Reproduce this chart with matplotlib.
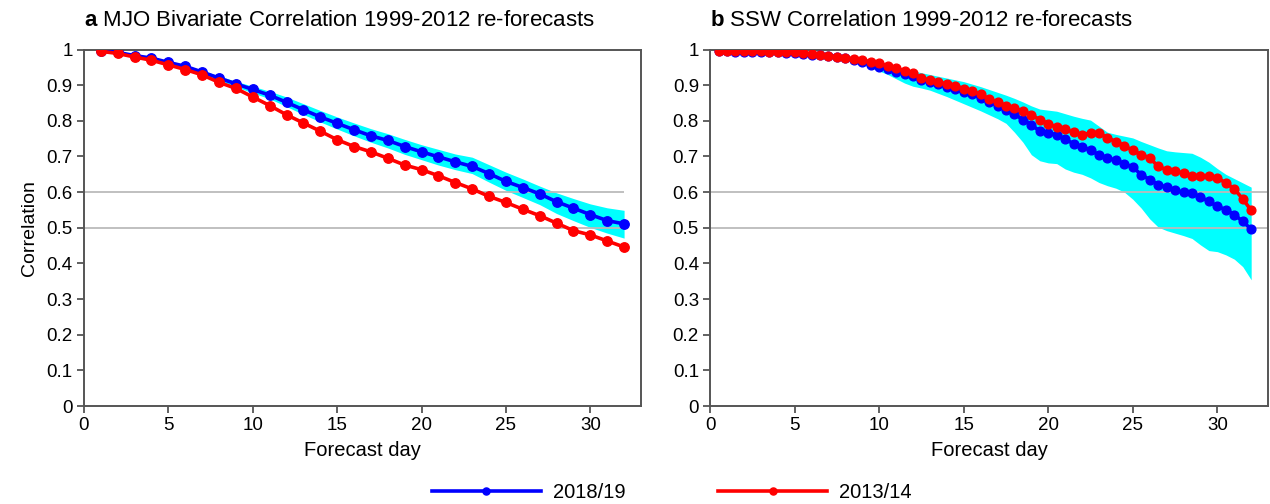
"""Recreate MJO / SSW re-forecast correlation panels."""

import matplotlib

matplotlib.use("Agg")
import matplotlib.pyplot as plt
import numpy as np

plt.rcParams["font.family"] = ["Liberation Sans", "DejaVu Sans"]
plt.rcParams["mathtext.fontset"] = "custom"
plt.rcParams["mathtext.bf"] = "Liberation Sans:bold"
plt.rcParams["mathtext.rm"] = "Liberation Sans"

# ---- panel a: MJO bivariate correlation (daily, days 1-32)
MJO_DAYS = list(range(1, 33))
MJO_2018 = [0.997, 0.992, 0.983, 0.976, 0.964, 0.953, 0.937, 0.920, 0.904, 0.888,
            0.872, 0.852, 0.831, 0.811, 0.793, 0.775, 0.758, 0.745, 0.728, 0.713,
            0.699, 0.685, 0.672, 0.652, 0.630, 0.613, 0.595, 0.573, 0.555, 0.537,
            0.520, 0.511]
MJO_2013 = [0.995, 0.989, 0.979, 0.970, 0.957, 0.944, 0.929, 0.908, 0.891, 0.867,
            0.843, 0.817, 0.794, 0.771, 0.747, 0.728, 0.713, 0.695, 0.676, 0.663,
            0.646, 0.627, 0.609, 0.588, 0.571, 0.552, 0.534, 0.513, 0.492, 0.480,
            0.463, 0.446]
MJO_UPPER = [0.998, 0.994, 0.986, 0.979, 0.968, 0.957, 0.942, 0.926, 0.911, 0.897,
             0.883, 0.867, 0.848, 0.829, 0.811, 0.794, 0.778, 0.764, 0.748, 0.733,
             0.720, 0.707, 0.698, 0.677, 0.656, 0.637, 0.617, 0.598, 0.582, 0.567,
             0.556, 0.549]
MJO_LOWER = [0.995, 0.989, 0.980, 0.972, 0.960, 0.948, 0.931, 0.913, 0.896, 0.878,
             0.862, 0.840, 0.818, 0.797, 0.777, 0.758, 0.740, 0.724, 0.706, 0.691,
             0.676, 0.663, 0.652, 0.628, 0.605, 0.585, 0.565, 0.540, 0.520, 0.501,
             0.485, 0.471]

# ---- panel b: SSW correlation (half-daily, days 0.5-32)
SSW_DAYS = [0.5 * i for i in range(1, 65)]
SSW_2018 = [0.995, 0.995, 0.994, 0.994, 0.994, 0.993, 0.993, 0.992, 0.991, 0.989,
            0.987, 0.986, 0.985, 0.983, 0.980, 0.976, 0.971, 0.965, 0.958, 0.951,
            0.945, 0.938, 0.930, 0.925, 0.914, 0.908, 0.902, 0.895, 0.888, 0.880,
            0.874, 0.864, 0.852, 0.843, 0.831, 0.819, 0.803, 0.789, 0.771, 0.766,
            0.761, 0.748, 0.736, 0.728, 0.717, 0.705, 0.696, 0.689, 0.680, 0.670,
            0.649, 0.635, 0.621, 0.614, 0.605, 0.599, 0.597, 0.586, 0.574, 0.560,
            0.551, 0.537, 0.518, 0.496]
SSW_2013 = [0.996, 0.996, 0.995, 0.995, 0.995, 0.995, 0.994, 0.994, 0.994, 0.993,
            0.991, 0.988, 0.986, 0.982, 0.979, 0.977, 0.974, 0.970, 0.966, 0.961,
            0.955, 0.947, 0.941, 0.934, 0.920, 0.914, 0.908, 0.904, 0.899, 0.890,
            0.883, 0.875, 0.861, 0.852, 0.843, 0.836, 0.827, 0.817, 0.803, 0.792,
            0.782, 0.776, 0.768, 0.761, 0.766, 0.766, 0.752, 0.742, 0.730, 0.717,
            0.705, 0.696, 0.672, 0.663, 0.658, 0.654, 0.646, 0.644, 0.644, 0.640,
            0.626, 0.609, 0.581, 0.549]
SSW_UPPER = [0.997, 0.997, 0.997, 0.997, 0.997, 0.996, 0.996, 0.996, 0.995, 0.995,
             0.993, 0.991, 0.989, 0.986, 0.983, 0.980, 0.976, 0.972, 0.968, 0.963,
             0.957, 0.951, 0.946, 0.940, 0.935, 0.930, 0.925, 0.920, 0.915, 0.910,
             0.903, 0.896, 0.888, 0.880, 0.872, 0.863, 0.853, 0.842, 0.833, 0.830,
             0.827, 0.820, 0.813, 0.807, 0.802, 0.785, 0.768, 0.762, 0.757, 0.752,
             0.742, 0.733, 0.724, 0.716, 0.713, 0.711, 0.709, 0.698, 0.684, 0.666,
             0.650, 0.638, 0.626, 0.614]
SSW_LOWER = [0.994, 0.994, 0.993, 0.993, 0.993, 0.992, 0.992, 0.991, 0.990, 0.988,
             0.986, 0.985, 0.983, 0.980, 0.976, 0.971, 0.965, 0.958, 0.950, 0.940,
             0.930, 0.918, 0.906, 0.897, 0.892, 0.886, 0.877, 0.868, 0.858, 0.848,
             0.838, 0.828, 0.817, 0.806, 0.793, 0.768, 0.740, 0.705, 0.688, 0.682,
             0.680, 0.665, 0.656, 0.650, 0.640, 0.627, 0.618, 0.611, 0.600, 0.580,
             0.555, 0.525, 0.502, 0.492, 0.485, 0.478, 0.470, 0.452, 0.436, 0.433,
             0.424, 0.412, 0.391, 0.354]

REF_LEVELS = [0.5, 0.6]
LABELS = ["2018/19", "2013/14"]
COLORS = ["#0000ff", "#ff0000"]
BAND_COLOR = "#00ffff"
SPINE_COLOR = "#555555"


def _draw_panel(ax, days, blue, red, lower, upper, letter, title, ref_xmax, ms):
    ax.fill_between(days, lower, upper, color=BAND_COLOR, lw=0, zorder=1)
    ax.hlines(REF_LEVELS, 0, ref_xmax, color="#bbbbbb", lw=1.3, zorder=2)
    lines = []
    for series, color, label in zip([blue, red], COLORS, LABELS):
        (ln,) = ax.plot(days, series, "-o", color=color, lw=2.6, ms=ms,
                        mec=color, label=label, zorder=3)
        lines.append(ln)

    ax.set_xlim(0, 33)
    ax.set_ylim(0, 1.0)
    ax.set_xticks(np.arange(0, 31, 5))
    ax.set_yticks(np.arange(0, 1.01, 0.1))
    ax.set_yticklabels([f"{v:g}" for v in np.round(np.arange(0, 1.01, 0.1), 1)])
    ax.tick_params(direction="out", length=5, width=1.3, color=SPINE_COLOR,
                   labelsize=13.5, pad=3)
    for sp in ax.spines.values():
        sp.set_color(SPINE_COLOR)
        sp.set_linewidth(1.4)
    ax.set_xlabel("Forecast day", fontsize=14.5, labelpad=5)
    ax.set_title(r"$\mathbf{" + letter + "}$ " + title, loc="left", fontsize=16, pad=17)
    return lines


fig = plt.figure(figsize=(12.7, 5.04), dpi=100)
ax_a = fig.add_axes([0.0661, 0.1944, 0.4386, 0.7073])
ax_b = fig.add_axes([0.5591, 0.1944, 0.4394, 0.7073])

lines = _draw_panel(ax_a, MJO_DAYS, MJO_2018, MJO_2013, MJO_LOWER, MJO_UPPER,
                    "a", "MJO Bivariate Correlation 1999-2012 re-forecasts", 32, 6.8)
_draw_panel(ax_b, SSW_DAYS, SSW_2018, SSW_2013, SSW_LOWER, SSW_UPPER,
            "b", "SSW Correlation 1999-2012 re-forecasts", 33, 6.3)
ax_a.set_ylabel("Correlation", fontsize=14, labelpad=6)

fig.legend(lines, LABELS, loc="center", bbox_to_anchor=(0.529, 0.022), ncol=2,
           frameon=False, fontsize=14.5, handlelength=5.4, handletextpad=0.6,
           columnspacing=4.6, numpoints=1, markerscale=0.75)

fig.savefig("out.png", dpi=100)
